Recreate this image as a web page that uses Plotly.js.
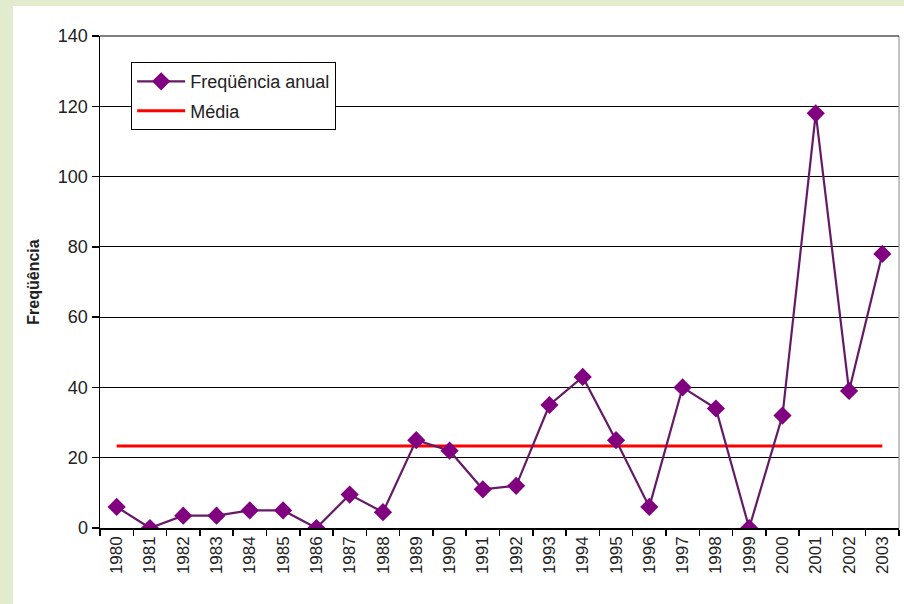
<!DOCTYPE html>
<html>
<head>
<meta charset="utf-8">
<script src="https://cdn.plot.ly/plotly-3.0.1.min.js"></script>
<style>
  html, body { margin: 0; padding: 0; background: #e2ebcd; width: 904px; height: 604px; overflow: hidden; }
  #chart { position: absolute; left: 13px; top: 6px; width: 891px; height: 598px; background: #ffffff; }
</style>
</head>
<body>
<div id="chart"></div>
<script>
const years = ['1980','1981','1982','1983','1984','1985','1986','1987','1988','1989','1990','1991',
               '1992','1993','1994','1995','1996','1997','1998','1999','2000','2001','2002','2003'];
const frequencia = [6, 0, 3.5, 3.5, 5, 5, 0, 9.5, 4.5, 25, 22, 11,
                    12, 35, 43, 25, 6, 40, 34, 0, 32, 118, 39, 78];
const mediaYears = ['1980', '2003'];
const mediaValues = [23.3, 23.3];
const yTicks = [0, 20, 40, 60, 80, 100, 120, 140];

const FONT = 'Arial, "Liberation Sans", sans-serif';

const traces = [
  {
    x: mediaYears, y: mediaValues, type: 'scatter', mode: 'lines', name: 'Média',
    line: { color: '#ff0000', width: 3 }, legendrank: 2, legendgroup: 'b'
  },
  {
    x: years, y: frequencia, type: 'scatter', mode: 'lines+markers', name: 'Freqüência anual',
    line: { color: '#651a65', width: 2.2 },
    marker: { symbol: 'diamond', size: 14, color: '#800080' },
    legendrank: 1, legendgroup: 'a'
  }
];

const layout = {
  width: 891, height: 598,
  margin: { l: 87, r: 5, t: 30, b: 76 },
  paper_bgcolor: '#ffffff', plot_bgcolor: '#ffffff',
  font: { family: FONT, size: 17, color: '#222222' },
  showlegend: true,
  legend: {
    x: 0.039, y: 0.947, xanchor: 'left', yanchor: 'top',
    bgcolor: '#ffffff', bordercolor: '#000000', borderwidth: 1,
    font: { family: FONT, size: 18, color: '#222222' },
    itemwidth: 48, tracegroupgap: 3
  },
  xaxis: {
    type: 'category', categoryorder: 'array', categoryarray: years,
    range: [-0.5, 23.5], tickson: 'boundaries',
    ticks: 'outside', ticklen: 6, tickcolor: '#000000', tickwidth: 1.5,
    showline: true, linecolor: '#000000', linewidth: 1.5,
    tickangle: -90, tickfont: { family: FONT, size: 17, color: '#222222' },
    showgrid: false, zeroline: false, fixedrange: true
  },
  yaxis: {
    range: [0, 140], tickvals: yTicks, ticktext: yTicks.map(String),
    ticks: 'outside', ticklen: 7, tickcolor: '#000000', tickwidth: 1.5,
    showline: true, linecolor: '#000000', linewidth: 1.5,
    showgrid: true, gridcolor: '#000000', gridwidth: 1,
    zeroline: false, tickfont: { family: FONT, size: 18, color: '#222222' },
    title: { text: '<b>Freqüência</b>', font: { family: FONT, size: 16, color: '#222222' }, standoff: 14 },
    fixedrange: true
  },
  shapes: [
    { type: 'line', xref: 'paper', yref: 'paper', x0: 1, x1: 1, y0: 0, y1: 1,
      line: { color: '#888888', width: 1 } },
    { type: 'line', xref: 'paper', yref: 'paper', x0: 0, x1: 1, y0: 1, y1: 1,
      line: { color: '#000000', width: 1 } }
  ]
};

Plotly.newPlot('chart', traces, layout, { displayModeBar: false, staticPlot: true });
</script>
</body>
</html>
